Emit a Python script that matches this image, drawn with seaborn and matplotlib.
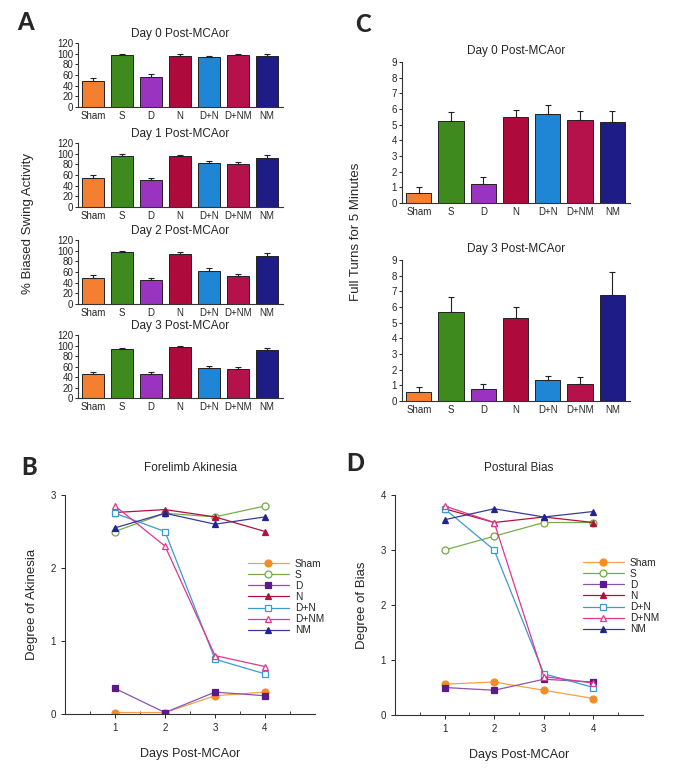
import numpy as np
import pandas as pd
import matplotlib
matplotlib.use('Agg')
import matplotlib.pyplot as plt
import seaborn as sns

groups = ['Sham', 'S', 'D', 'N', 'D+N', 'D+NM', 'NM']
bar_colors = ['#F57F30', '#3E8A1E', '#9A33BF', '#AE0A3C', '#1F86D6', '#B5124B', '#1E1C85']

# A: % biased swing activity (mean, sem)
swing_day0 = [49, 97, 57, 96, 93, 97, 95]
swing_day0_err = [5, 2, 4, 3, 3, 3, 4]
swing_day1 = [55, 96, 51, 95, 82, 80, 92]
swing_day1_err = [5, 3, 3, 3, 5, 5, 5]
swing_day2 = [49, 97, 45, 94, 61, 52, 90]
swing_day2_err = [5, 2, 3, 3, 6, 4, 5]
swing_day3 = [46, 94, 46, 98, 57, 55, 91]
swing_day3_err = [4, 2, 4, 2, 4, 4, 4]

# C: full turns for 5 minutes (mean, sem)
turns_day0 = [0.64, 5.21, 1.23, 5.47, 5.70, 5.30, 5.17]
turns_day0_err = [0.38, 0.62, 0.43, 0.49, 0.56, 0.55, 0.68]
turns_day3 = [0.55, 5.70, 0.79, 5.32, 1.34, 1.10, 6.77]
turns_day3_err = [0.32, 0.92, 0.27, 0.66, 0.26, 0.40, 1.44]

days = [1, 2, 3, 4]
# B: forelimb akinesia
akinesia = {
    'Sham': [0.02, 0.02, 0.25, 0.30],
    'S': [2.50, 2.75, 2.70, 2.85],
    'D': [0.35, 0.02, 0.30, 0.25],
    'N': [2.76, 2.80, 2.70, 2.50],
    'D+N': [2.75, 2.50, 0.75, 0.55],
    'D+NM': [2.85, 2.30, 0.80, 0.65],
    'NM': [2.55, 2.75, 2.60, 2.70],
}
# D: postural bias
bias = {
    'Sham': [0.56, 0.60, 0.45, 0.30],
    'S': [3.00, 3.25, 3.50, 3.50],
    'D': [0.50, 0.45, 0.65, 0.60],
    'N': [3.75, 3.50, 3.60, 3.50],
    'D+N': [3.75, 3.00, 0.75, 0.50],
    'D+NM': [3.80, 3.50, 0.70, 0.58],
    'NM': [3.55, 3.75, 3.60, 3.70],
}

line_colors = {'Sham': '#F5A04A', 'S': '#78AC4A', 'D': '#8855AA', 'N': '#B0123F',
               'D+N': '#3B9AD3', 'D+NM': '#E0368C', 'NM': '#3A3A96'}
marker_colors = {'Sham': '#F28C28', 'S': '#6FAA45', 'D': '#5A1A8A', 'N': '#B0123F',
                 'D+N': '#3B9AD3', 'D+NM': '#E0368C', 'NM': '#23238E'}
markers = {'Sham': 'o', 'S': 'o', 'D': 's', 'N': '^', 'D+N': 's', 'D+NM': '^', 'NM': '^'}
open_marker = {'Sham': False, 'S': True, 'D': False, 'N': False, 'D+N': True, 'D+NM': True, 'NM': False}

sns.set_style('ticks')
plt.rcParams['font.family'] = ['Liberation Sans', 'DejaVu Sans']
plt.rcParams['axes.linewidth'] = 0.8
plt.rcParams['axes.edgecolor'] = '#333333'

W, H = 685, 772
fig = plt.figure(figsize=(W / 100, H / 100), dpi=100)


def ax_px(left, top, right, bottom):
    return fig.add_axes([left / W, 1 - bottom / H, (right - left) / W, (bottom - top) / H])


def bar_panel(ax, vals, errs, title, ymax, step, width, pad):
    df = pd.DataFrame({'group': groups, 'value': vals})
    sns.barplot(data=df, x='group', y='value', hue='group', palette=bar_colors,
                order=groups, hue_order=groups, legend=False, width=width, saturation=1,
                edgecolor='#222222', linewidth=0.7, errorbar=None, ax=ax)
    ax.errorbar(np.arange(len(groups)), vals, yerr=[np.zeros(len(errs)), errs],
                fmt='none', ecolor='#222222', elinewidth=0.8, capsize=2, capthick=0.8)
    ax.set_ylim(0, ymax)
    ax.set_yticks(np.arange(0, ymax + 0.001, step))
    ax.set_xlim(-0.52, 6.55)
    ax.set_xlabel('')
    ax.set_ylabel('')
    ax.set_title(title, fontsize=8.5, pad=pad)
    ax.tick_params(axis='y', labelsize=7, length=2.5, width=0.7, pad=1)
    ax.tick_params(axis='x', labelsize=7, length=0, pad=3)
    sns.despine(ax=ax)


# panel A
a_tops = [(43, 107), (143, 207), (240, 304), (335, 398)]
a_vals = [(swing_day0, swing_day0_err), (swing_day1, swing_day1_err),
          (swing_day2, swing_day2_err), (swing_day3, swing_day3_err)]
for i, ((t, b), (v, e)) in enumerate(zip(a_tops, a_vals)):
    ax = ax_px(78, t, 283, b)
    bar_panel(ax, v, e, 'Day %d Post-MCAor' % i, 120, 20, 0.74, 4)

# panel C
for (t, b), v, e, d in [((62, 203), turns_day0, turns_day0_err, 0),
                        ((260, 401), turns_day3, turns_day3_err, 3)]:
    ax = ax_px(402, t, 630, b)
    bar_panel(ax, v, e, 'Day %d Post-MCAor' % d, 9, 1, 0.78, 6)


def line_panel(ax, data, title, ymax, ylabel, legend_xy):
    for g in groups:
        df = pd.DataFrame({'day': days, 'val': data[g]})
        mfc = 'white' if open_marker[g] else marker_colors[g]
        sns.lineplot(data=df, x='day', y='val', color=line_colors[g], linewidth=0.9,
                     marker=markers[g], markersize=5, markerfacecolor=mfc,
                     markeredgecolor=marker_colors[g], markeredgewidth=0.9,
                     label=g, ax=ax)
    ax.set_xlim(0, 5)
    ax.set_ylim(0, ymax)
    ax.set_xticks(days)
    ax.set_xticks(np.arange(0.5, 5, 1.0), minor=True)
    ax.set_yticks(np.arange(0, ymax + 1))
    ax.tick_params(axis='both', labelsize=7, length=3, width=0.7)
    ax.tick_params(axis='x', which='minor', direction='in', length=2, width=0.6)
    ax.set_title(title, fontsize=8.5, pad=17)
    ax.set_xlabel('Days Post-MCAor', fontsize=9, labelpad=11)
    ax.set_ylabel(ylabel, fontsize=9.5, labelpad=9)
    sns.despine(ax=ax)
    ax.legend(loc='upper left', bbox_to_anchor=legend_xy, bbox_transform=fig.transFigure,
              frameon=False, fontsize=7.3, handlelength=4, labelspacing=0.1,
              handletextpad=0.6, borderpad=0, borderaxespad=0)


axB = ax_px(65, 495, 315, 714)
line_panel(axB, akinesia, 'Forelimb Akinesia', 3, 'Degree of Akinesia', (248 / W, 1 - 559 / H))
axD = ax_px(395, 495, 643, 715)
line_panel(axD, bias, 'Postural Bias', 4, 'Degree of Bias', (583 / W, 1 - 558 / H))

# shared y labels
fig.text(28 / W, 1 - 224 / H, '% Biased Swing Activity', rotation=90, fontsize=9.5,
         ha='center', va='center')
fig.text(356 / W, 1 - 232 / H, 'Full Turns for 5 Minutes', rotation=90, fontsize=9.5,
         ha='center', va='center')

# panel letters
for letter, x, y in [('A', 17, 11), ('C', 355, 13), ('B', 21, 456), ('D', 346, 452)]:
    fig.text(x / W, 1 - y / H, letter, fontsize=17, fontweight='black',
             family=['Lato', 'DejaVu Sans'], ha='left', va='top')

fig.savefig('out.png', dpi=100)
